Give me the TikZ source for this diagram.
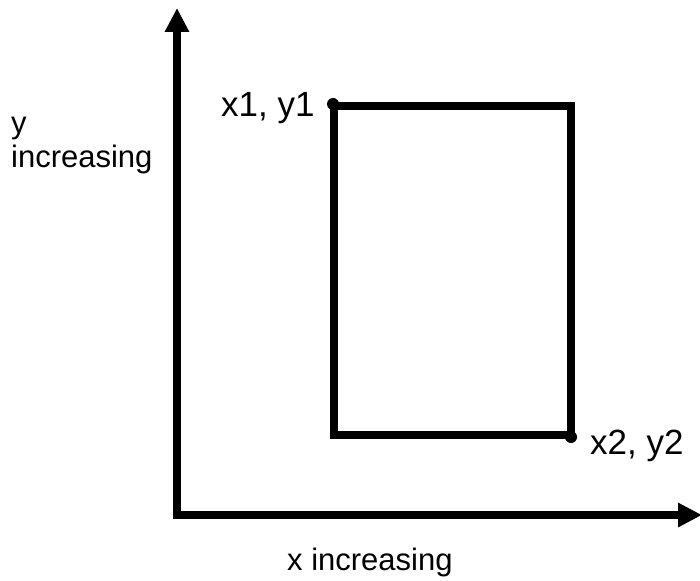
\documentclass[tikz,border=0pt]{standalone}
\usepackage{fontspec}
\setmainfont{Liberation Sans}
\usetikzlibrary{arrows.meta}
\begin{document}
\begin{tikzpicture}[x=1pt,y=-1pt,
  thickline/.style={line width=7.5pt,line join=miter,draw=black},
  cornerdot/.style={circle,fill=black,inner sep=0pt,minimum size=12pt},
  lbl/.style={inner sep=0pt,font=\fontsize{31}{33.5}\selectfont},
  ptlbl/.style={inner sep=0pt,font=\fontsize{35}{40}\selectfont}]
\useasboundingbox (0,0) rectangle (700,580);
% axes
\coordinate (ytip) at (177,8);
\coordinate (origin) at (177,515);
\coordinate (xtip) at (702,515);
\draw[thickline,{Triangle[length=24pt,width=23pt]}-{Triangle[length=24pt,width=23pt]}] (ytip) -- (origin) -- (xtip);
% rectangle
\coordinate (p1) at (334,106);
\coordinate (p2) at (571,435);
\draw[thickline] (p1) rectangle (p2);
\node[cornerdot] (d1) at (333,104) {};
\node[cornerdot] (d2) at (571,437) {};
% labels
\node[ptlbl,anchor=base west] (l1) at (221,117) {x1, y1};
\node[ptlbl,anchor=base west] (l2) at (590,454) {x2, y2};
\node[lbl,anchor=base west] (lx) at (287,570) {x increasing};
\node[lbl,anchor=base west,align=left] (ly) at (11,167) {y\\increasing};
\end{tikzpicture}
\end{document}
